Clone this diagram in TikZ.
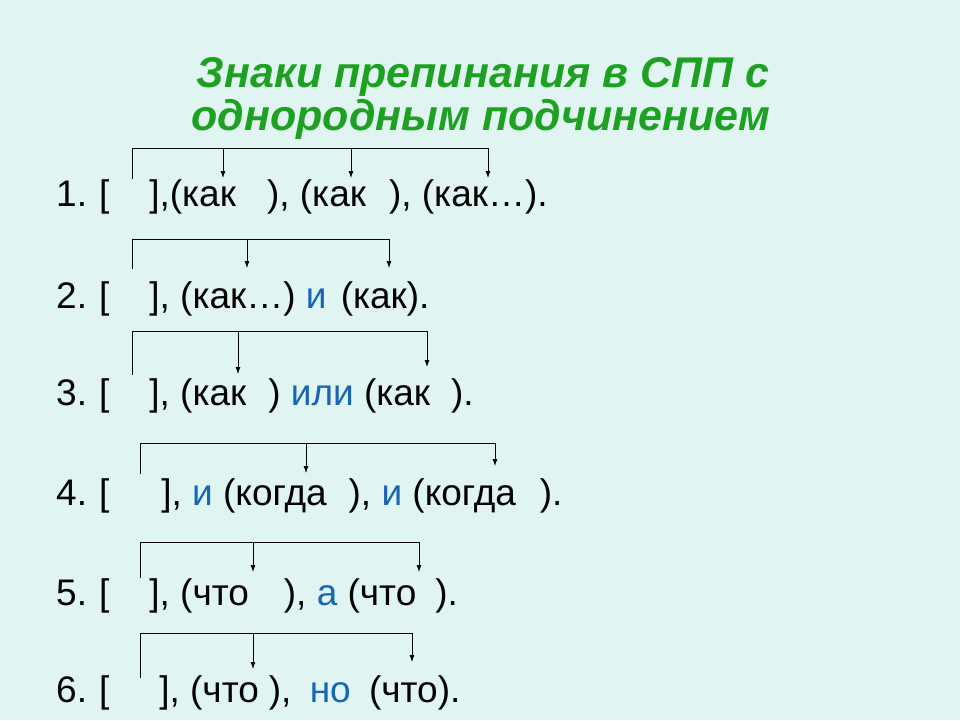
\documentclass[tikz,border=0pt]{standalone}
\usepackage{fontspec}
\setmainfont{Liberation Sans}
\usepackage{xcolor}
\usetikzlibrary{arrows.meta}
\tikzset{>={Latex[length=7pt,width=5pt]}}
\definecolor{bg}{RGB}{224,245,241}
\definecolor{titlegreen}{RGB}{30,160,34}
\definecolor{conj}{RGB}{22,102,180}
\newcommand{\conj}[1]{\textcolor{conj}{#1}}
\newcommand{\gap}[1]{\hspace*{#1pt}}

\begin{document}
\begin{tikzpicture}[x=1pt, y=-1pt,
    title/.style={anchor=base, inner sep=0pt, text=titlegreen,
      font=\fontsize{43}{46}\selectfont\bfseries\itshape},
    row/.style={anchor=base west, inner sep=0pt, font=\fontsize{37}{40}\selectfont},
    link/.style={line width=0.8pt}]
    \fill[bg] (0, 0) rectangle (960, 720);
    \useasboundingbox (0, 0) rectangle (960, 720);
    % title
    \node[title] (head1) at (483, 87) {Знаки препинания в СПП с};
    \node[title] (head2) at (481, 130) {однородным подчинением};
    % the six schemes
    \node[row] (s1) at (56, 206) {1.\gap{12}[\gap{40}],(как\gap{31}), (как\gap{23}), (как…).};
    \node[row] (s2) at (56, 308) {2.\gap{12}[\gap{40}], (как…) \conj{и}\gap{4} (как).};
    \node[row] (s3) at (56, 405) {3.\gap{12}[\gap{40}], (как\gap{22}) \conj{или} (как\gap{21}).};
    \node[row] (s4) at (56, 505) {4.\gap{12}[\gap{52}], \conj{и} (когда\gap{22}), \conj{и} (когда\gap{24}).};
    \node[row] (s5) at (56, 605) {5.\gap{12}[\gap{40}], (что\gap{35}), \conj{а} (что\gap{19}).};
    \node[row] (s6) at (56, 702) {6.\gap{12}[\gap{50}], (что\gap{10}),\gap{8} \conj{но}\gap{8} (что).};
    % main clause points and arrow ends
    \coordinate (m1) at (132, 179);
    \coordinate (a1) at (223, 178);
    \coordinate (b1) at (351, 178);
    \coordinate (c1) at (488, 178);
    \coordinate (m2) at (132, 269);
    \coordinate (a2) at (247, 268);
    \coordinate (b2) at (389, 268);
    \coordinate (m3) at (132, 375);
    \coordinate (a3) at (238, 374);
    \coordinate (b3) at (427, 367);
    \coordinate (m4) at (140, 474);
    \coordinate (a4) at (306, 473);
    \coordinate (b4) at (495, 466);
    \coordinate (m5) at (140, 578);
    \coordinate (a5) at (253, 572);
    \coordinate (b5) at (419, 572);
    \coordinate (m6) at (140, 678);
    \coordinate (a6) at (253, 669);
    \coordinate (b6) at (412, 662);
    % brackets
    \draw[link, ->] (m1) -- ++(0, -31) -| (c1);
    \draw[link, ->] (a1 |- 0, 148) -- (a1);
    \draw[link, ->] (b1 |- 0, 148) -- (b1);
    \draw[link, ->] (m2) -- ++(0, -30) -| (b2);
    \draw[link, ->] (a2 |- 0, 239) -- (a2);
    \draw[link, ->] (m3) -- ++(0, -44) -| (b3);
    \draw[link, ->] (a3 |- 0, 331) -- (a3);
    \draw[link, ->] (m4) -- ++(0, -31) -| (b4);
    \draw[link, ->] (a4 |- 0, 443) -- (a4);
    \draw[link, ->] (m5) -- ++(0, -36) -| (b5);
    \draw[link, ->] (a5 |- 0, 542) -- (a5);
    \draw[link, ->] (m6) -- ++(0, -45) -| (b6);
    \draw[link, ->] (a6 |- 0, 633) -- (a6);
\end{tikzpicture}
\end{document}
